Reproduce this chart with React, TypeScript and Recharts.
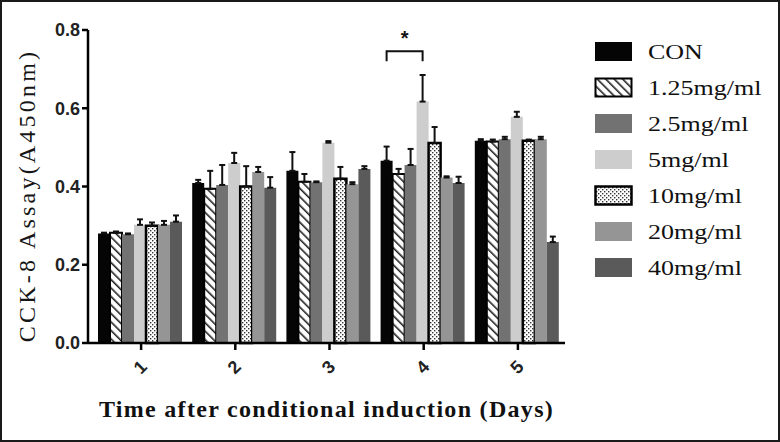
import { BarChart, Bar, XAxis, YAxis, ErrorBar, Legend, LabelList } from "recharts";

// CCK-8 absorbance (A450nm) by day after conditional induction, mean and SD
const DAYS = ["1", "2", "3", "4", "5"];
const SERIES_NAMES = ["CON", "1.25mg/ml", "2.5mg/ml", "5mg/ml", "10mg/ml", "20mg/ml", "40mg/ml"];

const CON = [0.28, 0.409, 0.44, 0.466, 0.517];
const CON_SD = [0.002, 0.008, 0.048, 0.036, 0.004];
const MG_1_25 = [0.282, 0.394, 0.412, 0.432, 0.515];
const MG_1_25_SD = [0.003, 0.046, 0.02, 0.013, 0.005];
const MG_2_5 = [0.278, 0.404, 0.411, 0.455, 0.521];
const MG_2_5_SD = [0.002, 0.051, 0.002, 0.041, 0.006];
const MG_5 = [0.302, 0.46, 0.512, 0.617, 0.578];
const MG_5_SD = [0.014, 0.026, 0.004, 0.068, 0.013];
const MG_10 = [0.3, 0.4, 0.42, 0.511, 0.517];
const MG_10_SD = [0.008, 0.052, 0.03, 0.041, 0.003];
const MG_20 = [0.302, 0.437, 0.406, 0.423, 0.521];
const MG_20_SD = [0.01, 0.013, 0.005, 0.003, 0.006];
const MG_40 = [0.31, 0.397, 0.445, 0.409, 0.258];
const MG_40_SD = [0.016, 0.027, 0.007, 0.016, 0.014];

const Y_TICKS = [0, 0.2, 0.4, 0.6, 0.8];

// significance bracket between CON and 5mg/ml on day 4
const SIG_DAY_INDEX = 3;
const SIG_LEVEL = 0.746;
const SIG_LEG = 0.72;

const MEANS = [CON, MG_1_25, MG_2_5, MG_5, MG_10, MG_20, MG_40];
const SDS = [CON_SD, MG_1_25_SD, MG_2_5_SD, MG_5_SD, MG_10_SD, MG_20_SD, MG_40_SD];

const STYLES = [
  { fill: "#050505", stroke: "none", sw: 0 },
  { fill: "url(#hatch)", stroke: "#000", sw: 2 },
  { fill: "#727272", stroke: "none", sw: 0 },
  { fill: "#cdcdcd", stroke: "none", sw: 0 },
  { fill: "url(#dots)", stroke: "#000", sw: 2.5 },
  { fill: "#959595", stroke: "none", sw: 0 },
  { fill: "#5a5a5a", stroke: "none", sw: 0 },
];

const SERIF = "Liberation Serif, Times New Roman, serif";
const SANS = "Liberation Sans, Arial, sans-serif";

const data = DAYS.map((day, i) => {
  const row: Record<string, any> = { day };
  MEANS.forEach((m, s) => {
    row["s" + s] = m[i];
    row["e" + s] = [0, SDS[s][i]];
  });
  return row;
});

const XTick = (props: any) => {
  const { x, y, payload } = props;
  return (
    <g transform={`translate(${x},${y + 16})`}>
      <text
        transform="rotate(-45)"
        textAnchor="middle"
        dominantBaseline="middle"
        fontFamily={SANS}
        fontWeight="bold"
        fontSize={18}
        fill="#222"
      >
        {payload.value}
      </text>
    </g>
  );
};

const SigBracket = (props: any) => {
  const { x, y, width, height, value, index } = props;
  if (index !== SIG_DAY_INDEX || !height) return null;
  const base = y + height;
  const perUnit = height / value;
  const yTop = base - SIG_LEVEL * perUnit;
  const yLeg = base - SIG_LEG * perUnit;
  const x2 = x + width / 2;
  const x1 = x2 - 3 * width;
  return (
    <g>
      <path d={`M${x1},${yLeg} L${x1},${yTop} L${x2},${yTop} L${x2},${yLeg}`} fill="none" stroke="#111" strokeWidth={2} />
      <text x={(x1 + x2) / 2} y={yTop - 6} textAnchor="middle" fontFamily={SANS} fontWeight="bold" fontSize={20} fill="#111">
        *
      </text>
    </g>
  );
};

const LegendContent = () => (
  <div>
    {SERIES_NAMES.map((name, i) => {
      const st = STYLES[i];
      return (
        <div key={name} style={{ display: "flex", alignItems: "center", height: 36 }}>
          <svg width={40} height={22} style={{ display: "block" }}>
            <rect
              x={1.5}
              y={1.5}
              width={36}
              height={18}
              fill={st.fill}
              stroke={st.stroke === "none" ? st.fill : st.stroke}
              strokeWidth={st.sw || 1}
            />
          </svg>
          <span
            style={{
              marginLeft: 14,
              fontFamily: SERIF,
              fontSize: 20,
              color: "#111",
              display: "inline-block",
              transform: "scaleX(1.3)",
              transformOrigin: "left center",
              whiteSpace: "nowrap",
            }}
          >
            {name}
          </span>
        </div>
      );
    })}
  </div>
);

export default function App() {
  return (
    <div
      style={{
        position: "absolute",
        left: 0,
        top: 0,
        width: 780,
        height: 442,
        boxSizing: "border-box",
        border: "2px solid #1a1a1a",
        background: "#fff",
        overflow: "hidden",
      }}
    >
      <div style={{ position: "absolute", left: -2, top: -2 }}>
        <BarChart
          width={780}
          height={442}
          data={data}
          margin={{ top: 30, right: 215, bottom: 0, left: 0 }}
          barCategoryGap={4}
          barGap={0}
        >
          <defs>
            <pattern id="hatch" patternUnits="userSpaceOnUse" width={6} height={6} patternTransform="rotate(-45)">
              <rect width={6} height={6} fill="#fff" />
              <rect x={0} y={0} width={1.6} height={6} fill="#222" />
            </pattern>
            <pattern id="dots" patternUnits="userSpaceOnUse" width={4} height={4}>
              <rect width={4} height={4} fill="#fff" />
              <rect x={0} y={0} width={1.4} height={1.4} fill="#333" />
              <rect x={2} y={2} width={1.4} height={1.4} fill="#333" />
            </pattern>
          </defs>
          <XAxis
            dataKey="day"
            height={99}
            padding={{ left: 6, right: 0 }}
            axisLine={{ stroke: "#000", strokeWidth: 2.5 }}
            tickLine={{ stroke: "#000", strokeWidth: 2.5 }}
            tickSize={7}
            tick={<XTick />}
            interval={0}
            label={{
              value: "Time after conditional induction (Days)",
              position: "insideBottom",
              offset: 25,
              style: {
                fontFamily: SERIF,
                fontWeight: "bold",
                fontSize: 24,
                letterSpacing: 1.3,
                fill: "#111",
              },
            }}
          />
          <YAxis
            width={88}
            domain={[0, 0.8]}
            ticks={Y_TICKS}
            tickFormatter={(v: number) => v.toFixed(1)}
            axisLine={{ stroke: "#000", strokeWidth: 2.5 }}
            tickLine={{ stroke: "#000", strokeWidth: 2.5 }}
            tickSize={6}
            tickMargin={2}
            tick={{ fontFamily: SANS, fontWeight: "bold", fontSize: 18, fill: "#222" }}
            label={{
              value: "CCK-8 Assay(A450nm)",
              angle: -90,
              position: "insideLeft",
              offset: 26,
              dy: 9,
              style: {
                textAnchor: "middle",
                fontFamily: SERIF,
                fontSize: 24,
                letterSpacing: 3.2,
                fill: "#151515",
              },
            }}
          />
          <Legend
            layout="vertical"
            align="center"
            verticalAlign="middle"
            content={<LegendContent />}
            wrapperStyle={{ left: 594, top: 34, width: 180 }}
          />
          {SERIES_NAMES.map((name, s) => (
            <Bar
              key={name}
              dataKey={"s" + s}
              name={name}
              fill={STYLES[s].fill}
              stroke={STYLES[s].stroke}
              strokeWidth={STYLES[s].sw}
              isAnimationActive={false}
            >
              <ErrorBar dataKey={"e" + s} width={3} stroke="#111" strokeWidth={2} direction="y" />
              {s === 3 ? <LabelList dataKey={"s" + s} content={<SigBracket />} /> : null}
            </Bar>
          ))}
        </BarChart>
      </div>
    </div>
  );
}
